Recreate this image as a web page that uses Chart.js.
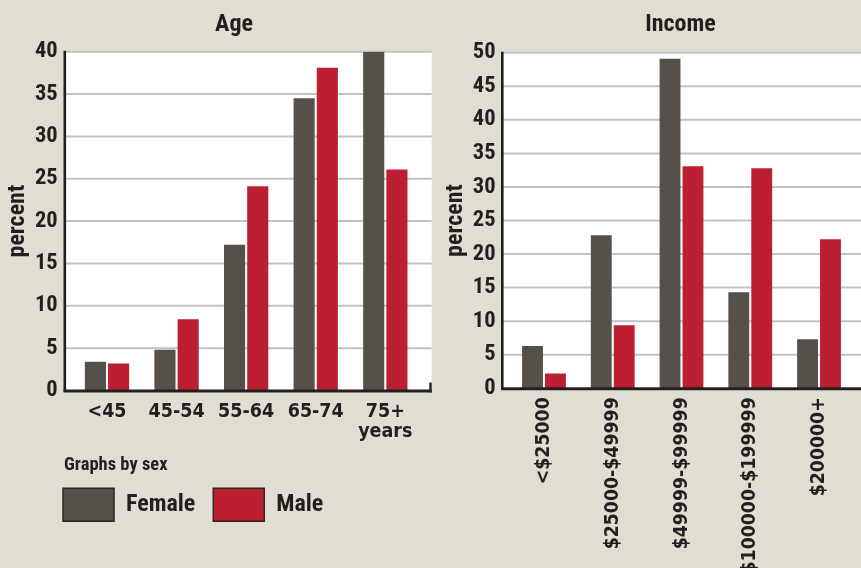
<!DOCTYPE html>
<html>
<head>
<meta charset="utf-8">
<script src="https://cdn.jsdelivr.net/npm/chart.js@4.4.1/dist/chart.umd.min.js"></script>
<style>
  html, body { margin: 0; padding: 0; }
  body { width: 861px; height: 568px; overflow: hidden; position: relative; background: #E0DED3; }
  canvas { position: absolute; top: 0; }
  #ageChart { left: 0; width: 468px; height: 568px; }
  #incomeChart { left: 440px; width: 480px; height: 568px; }
</style>
</head>
<body>
<canvas id="ageChart" width="468" height="568"></canvas>
<canvas id="incomeChart" width="480" height="568"></canvas>
<script>
// ---- data ----
const seriesNames = ['Female', 'Male'];
const ageCategories = ['<45', '45-54', '55-64', '65-74', ['75+', 'years']];
const ageFemale = [3.4, 4.8, 17.2, 34.5, 40.0];
const ageMale = [3.2, 8.4, 24.1, 38.1, 26.1];
const incomeCategories = ['<$25000', '$25000-$49999', '$49999-$99999', '$100000-$199999', '$200000+'];
const incomeFemale = [6.3, 22.8, 49.1, 14.3, 7.3];
const incomeMale = [2.2, 9.4, 33.1, 32.8, 22.2];
const ageAxisMax = 40;
const incomeAxisMax = 50;
const tickStep = 5;
const noteText = 'Graphs by sex';

// ---- styles ----
const COLORS = { female: '#555049', male: '#BD1F32', text: '#231F20', grid: '#C2C2C2', axis: '#231F20' };
const NARROW = "'Roboto Condensed', 'Open Sans Condensed', 'DejaVu Sans Condensed', sans-serif";
const COND = "'DejaVu Sans Condensed', 'DejaVu Sans', sans-serif";

const panelPlugin = {
  id: 'panel',
  afterLayout(chart, args, opts) {
    if (opts.titleCenter != null && chart.titleBlock) {
      const w = chart.titleBlock.right - chart.titleBlock.left;
      chart.titleBlock.left = opts.titleCenter - w / 2;
      chart.titleBlock.right = opts.titleCenter + w / 2;
    }
    if (opts.legendLeft != null && chart.legend) {
      const w = chart.legend.right - chart.legend.left;
      chart.legend.left = opts.legendLeft;
      chart.legend.right = opts.legendLeft + w;
    }
  },
  beforeDraw(chart, args, opts) {
    const ctx = chart.ctx;
    const y = chart.scales.y;
    const top = y.getPixelForValue(y.max);
    const bottom = y.getPixelForValue(0);
    ctx.save();
    ctx.fillStyle = '#FFFFFF';
    ctx.fillRect(opts.plotLeft, top, opts.plotRight - opts.plotLeft, bottom - top);
    ctx.strokeStyle = COLORS.grid;
    ctx.lineWidth = 2;
    y.ticks.forEach(t => {
      if (t.value === 0) return;
      const py = y.getPixelForValue(t.value);
      ctx.beginPath();
      ctx.moveTo(opts.plotLeft, py);
      ctx.lineTo(opts.plotRight, py);
      ctx.stroke();
    });
    ctx.restore();
  },
  afterDatasetsDraw(chart, args, opts) {
    const ctx = chart.ctx;
    const y = chart.scales.y;
    const top = y.getPixelForValue(y.max);
    const bottom = y.getPixelForValue(0);
    ctx.save();
    ctx.strokeStyle = COLORS.axis;
    ctx.lineWidth = 2.6;
    ctx.beginPath();
    ctx.moveTo(opts.plotLeft, top - 1);
    ctx.lineTo(opts.plotLeft, bottom + 1);
    ctx.stroke();
    ctx.lineWidth = 3;
    ctx.beginPath();
    ctx.moveTo(opts.plotLeft - 1.3, bottom + 0.5);
    ctx.lineTo(opts.plotRight, bottom + 0.5);
    ctx.stroke();
    if (opts.endTick) {
      ctx.lineWidth = 2.4;
      ctx.beginPath();
      ctx.moveTo(opts.plotRight - 1.2, bottom + 2);
      ctx.lineTo(opts.plotRight - 1.2, bottom - 8);
      ctx.stroke();
    }
    ctx.restore();
  },
  afterDraw(chart, args, opts) {
    if (!opts.note) return;
    const ctx = chart.ctx;
    ctx.save();
    ctx.fillStyle = COLORS.text;
    ctx.font = 'bold 18.5px ' + NARROW;
    ctx.textBaseline = 'alphabetic';
    ctx.textAlign = 'left';
    ctx.fillText(opts.note, opts.noteX, opts.noteY);
    ctx.restore();
  }
};

function makeDatasets(female, male) {
  return [
    { label: seriesNames[0], data: female, backgroundColor: COLORS.female, borderWidth: 0,
      categoryPercentage: 0.667, barPercentage: 0.91 },
    { label: seriesNames[1], data: male, backgroundColor: COLORS.male, borderWidth: 0,
      categoryPercentage: 0.667, barPercentage: 0.91 }
  ];
}

const hiddenGrid = { display: false, drawTicks: false };

// ---- Age chart ----
new Chart(document.getElementById('ageChart'), {
  type: 'bar',
  data: { labels: ageCategories, datasets: makeDatasets(ageFemale, ageMale) },
  plugins: [panelPlugin],
  options: {
    responsive: false,
    animation: false,
    devicePixelRatio: 1,
    layout: { padding: { left: 0, right: 47.9, top: 0, bottom: 36.7 } },
    plugins: {
      tooltip: { enabled: false },
      title: {
        display: true, text: 'Age', color: COLORS.text,
        font: { family: NARROW, size: 24, weight: 'bold', lineHeight: 1.2 },
        padding: { top: 10.6, bottom: 12.3 }
      },
      legend: {
        display: true, position: 'bottom', align: 'start',
        labels: {
          boxWidth: 51, boxHeight: 33, padding: 18, color: COLORS.text,
          font: { family: NARROW, size: 24, weight: 'bold' },
          generateLabels(chart) {
            return Chart.defaults.plugins.legend.labels.generateLabels(chart).map(l =>
              Object.assign(l, { lineWidth: 1.5, strokeStyle: '#2B2724' }));
          }
        },
        onClick: null
      },
      panel: { plotLeft: 64.8, plotRight: 431.7, endTick: true, note: noteText, noteX: 64, noteY: 470,
               titleCenter: 234, legendLeft: 45 }
    },
    scales: {
      x: {
        grid: hiddenGrid, border: { display: false },
        ticks: {
          color: COLORS.text, maxRotation: 0, minRotation: 0, autoSkip: false, padding: 11,
          font: { family: COND, size: 19.5, weight: 'bold', lineHeight: 1.03 }
        },
        afterFit(s) { s.height = 79.8; }
      },
      y: {
        min: 0, max: ageAxisMax,
        grid: hiddenGrid, border: { display: false },
        ticks: {
          stepSize: tickStep, color: COLORS.text, padding: 14.5,
          font: { family: NARROW, size: 22.5, weight: 'bold' }
        },
        title: {
          display: true, text: 'percent', color: COLORS.text,
          font: { family: NARROW, size: 24, weight: 'bold', lineHeight: 1.2 },
          padding: { top: 3.1, bottom: 0 }
        },
        afterFit(s) { s.width = 72.2; }
      }
    }
  }
});

// ---- Income chart ----
new Chart(document.getElementById('incomeChart'), {
  type: 'bar',
  data: { labels: incomeCategories, datasets: makeDatasets(incomeFemale, incomeMale) },
  plugins: [panelPlugin],
  options: {
    responsive: false,
    animation: false,
    devicePixelRatio: 1,
    layout: { padding: { left: 0, right: 66.6, top: 0, bottom: 0 } },
    plugins: {
      tooltip: { enabled: false },
      legend: { display: false },
      title: {
        display: true, text: 'Income', color: COLORS.text,
        font: { family: NARROW, size: 24, weight: 'bold', lineHeight: 1.2 },
        padding: { top: 10.6, bottom: 13.3 }
      },
      panel: { plotLeft: 62.3, plotRight: 480, endTick: false, titleCenter: 240.5 }
    },
    scales: {
      x: {
        grid: hiddenGrid, border: { display: false },
        ticks: {
          color: COLORS.text, maxRotation: 90, minRotation: 90, autoSkip: false, padding: 9,
          font: { family: COND, size: 19.3, weight: 'bold', lineHeight: 1.1 }
        },
        afterFit(s) { s.height = 179.7; }
      },
      y: {
        min: 0, max: incomeAxisMax,
        grid: hiddenGrid, border: { display: false },
        ticks: {
          stepSize: tickStep, color: COLORS.text, padding: 14,
          font: { family: NARROW, size: 22.5, weight: 'bold' }
        },
        title: {
          display: true, text: 'percent', color: COLORS.text,
          font: { family: NARROW, size: 24, weight: 'bold', lineHeight: 1.2 },
          padding: { top: 1.1, bottom: 0 }
        },
        afterFit(s) { s.width = 69.6; }
      }
    }
  }
});
</script>
</body>
</html>
